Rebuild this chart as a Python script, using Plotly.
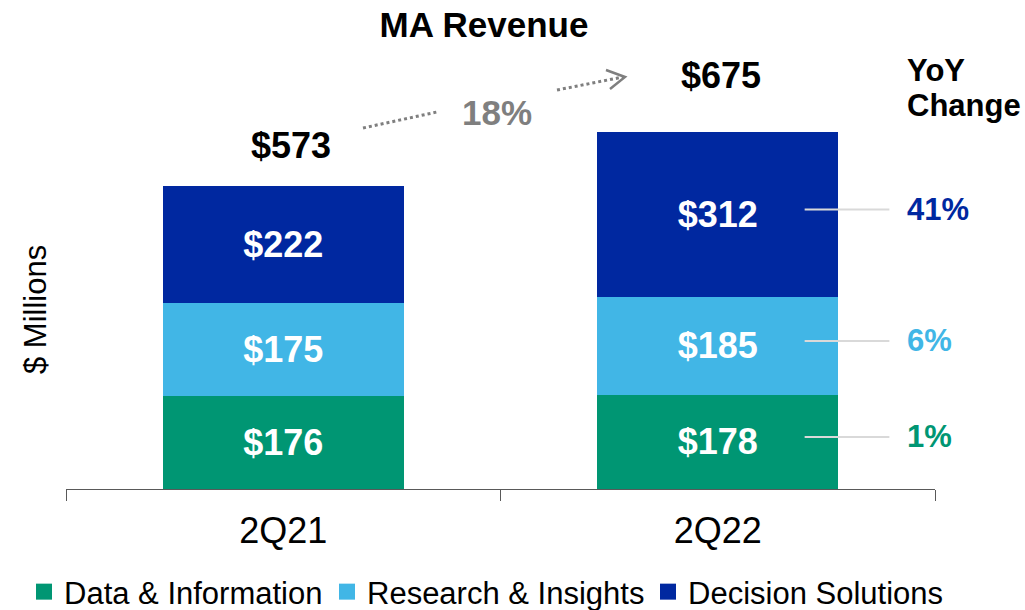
import plotly.graph_objects as go

# ---- data ----
categories = ["2Q21", "2Q22"]
series_names = ["Data & Information", "Research & Insights", "Decision Solutions"]
data_info = [176, 178]
research = [175, 185]
decision = [222, 312]
totals = [573, 675]
yoy_labels = ["1%", "6%", "41%"]
growth_label = "18%"

colors = ["#009673", "#41B6E6", "#0028A0"]
FONT = "Arial, Liberation Sans, sans-serif"

# ---- layout geometry (pixels) ----
W, H = 1025, 610
ML, MR, MT, MB = 66, 90, 20, 121
PW, PH = W - ML - MR, H - MT - MB
YMAX = 887


def px_to_data_x(px):
    cat_w = PW / 2.0
    return (px - ML) / cat_w - 0.5


def px_to_data_y(py):
    return (H - MB - py) / PH * YMAX


PX_UNIT = YMAX / PH  # data units per pixel

fig = go.Figure()
for name, vals, col in zip(series_names, [data_info, research, decision], colors):
    fig.add_trace(go.Bar(
        x=categories, y=vals, name=name, marker=dict(color=col, line=dict(width=0)),
        text=[f"<b>${v}</b>" for v in vals], textposition="inside",
        insidetextanchor="middle", constraintext="none",
        textfont=dict(family=FONT, size=36, color="white"),
        hoverinfo="skip", showlegend=False,
    ))

# legend proxies (one legend per entry, for exact placement)
legend_ids = ["legend", "legend2", "legend3"]
for name, col, lid in zip(series_names, colors, legend_ids):
    fig.add_trace(go.Scatter(
        x=[None], y=[None], mode="markers", name=name, legend=lid,
        marker=dict(symbol="square", size=16, color=col), showlegend=True,
        hoverinfo="skip",
    ))

annotations = []
# totals above bars
tot_shift = [(8, 18), (3, 34)]
for c, t, (sx, sy) in zip(categories, totals, tot_shift):
    annotations.append(dict(x=c, y=t, xref="x", yref="y", text=f"<b>${t}</b>",
                            showarrow=False, yanchor="bottom", yshift=sy, xshift=sx,
                            font=dict(family=FONT, size=36, color="black")))

# YoY connector lines and labels for the 2Q22 bar
stacks = [data_info, research, decision]
shapes = []
base = 0
for i, vals in enumerate(stacks):
    mid = base + vals[1] / 2.0 + 5 * PX_UNIT
    base += vals[1]
    shapes.append(dict(type="line", xref="x", yref="y", x0=1.2, x1=1.395, y0=mid, y1=mid,
                       line=dict(color="#D9D9D9", width=2), layer="above"))
    annotations.append(dict(x=1.43, y=mid, xref="x", yref="y", text=f"<b>{yoy_labels[i]}</b>",
                            showarrow=False, xanchor="left", yanchor="middle",
                            font=dict(family=FONT, size=31, color=colors[i])))

for txt, py in [("YoY", 70), ("Change", 105)]:
    annotations.append(dict(x=1.43, y=px_to_data_y(py), xref="x", yref="y",
                            text=f"<b>{txt}</b>", showarrow=False, xanchor="left",
                            yanchor="middle", font=dict(family=FONT, size=31, color="black")))

# growth arrow (dotted) with label
gray = "#7F7F7F"
shapes.append(dict(type="line", xref="x", yref="y",
                   x0=px_to_data_x(363), y0=px_to_data_y(128),
                   x1=px_to_data_x(437), y1=px_to_data_y(112),
                   line=dict(color=gray, width=3, dash="dot")))
shapes.append(dict(type="line", xref="x", yref="y",
                   x0=px_to_data_x(557), y0=px_to_data_y(90),
                   x1=px_to_data_x(623), y1=px_to_data_y(77),
                   line=dict(color=gray, width=3, dash="dot")))
shapes.append(dict(type="path", xref="x", yref="y",
                   path=(f"M {px_to_data_x(606)},{px_to_data_y(70)} "
                         f"L {px_to_data_x(625)},{px_to_data_y(77)} "
                         f"L {px_to_data_x(610)},{px_to_data_y(89)}"),
                   line=dict(color=gray, width=2.5)))
annotations.append(dict(x=px_to_data_x(497), y=px_to_data_y(112), xref="x", yref="y",
                        text=f"<b>{growth_label}</b>", showarrow=False,
                        font=dict(family=FONT, size=35, color=gray)))

# y axis title
annotations.append(dict(x=(35 - ML) / PW, y=(H - MB - 310) / PH, xref="paper", yref="paper",
                        text="$ Millions", textangle=-90, showarrow=False,
                        xanchor="center", yanchor="middle",
                        font=dict(family=FONT, size=31, color="black")))

legend_common = dict(orientation="h", xanchor="left", yref="container",
                     y=1 - 592 / H, yanchor="middle", xref="container",
                     font=dict(family=FONT, size=31, color="black"), itemwidth=30,
                     bgcolor="rgba(0,0,0,0)", borderwidth=0)

fig.update_layout(
    width=W, height=H,
    margin=dict(l=ML, r=MR, t=MT, b=MB, autoexpand=False),
    paper_bgcolor="white", plot_bgcolor="white",
    barmode="stack", bargap=0.445,
    title=dict(text="<b>MA Revenue</b>", x=484 / W, xref="container", xanchor="center",
               y=1 - 25 / H, yref="container", yanchor="middle",
               font=dict(family=FONT, size=35, color="black")),
    xaxis=dict(type="category", range=[-0.5, 1.5], autorange=False,
               showline=True, linecolor="#595959", linewidth=1,
               ticks="outside", tickson="boundaries", ticklen=11, tickcolor="#595959",
               tickwidth=1, showgrid=False, ticklabelstandoff=10,
               tickfont=dict(family=FONT, size=36, color="black")),
    yaxis=dict(range=[0, YMAX], autorange=False, showgrid=False, showticklabels=False,
               zeroline=False, showline=False, ticks=""),
    legend=dict(x=24 / W, **legend_common),
    legend2=dict(x=327 / W, **legend_common),
    legend3=dict(x=648 / W, **legend_common),
    annotations=annotations, shapes=shapes,
    showlegend=True,
)

fig.write_html("out.html", config={"displayModeBar": False},
               post_script="document.body.style.margin='0px';")
